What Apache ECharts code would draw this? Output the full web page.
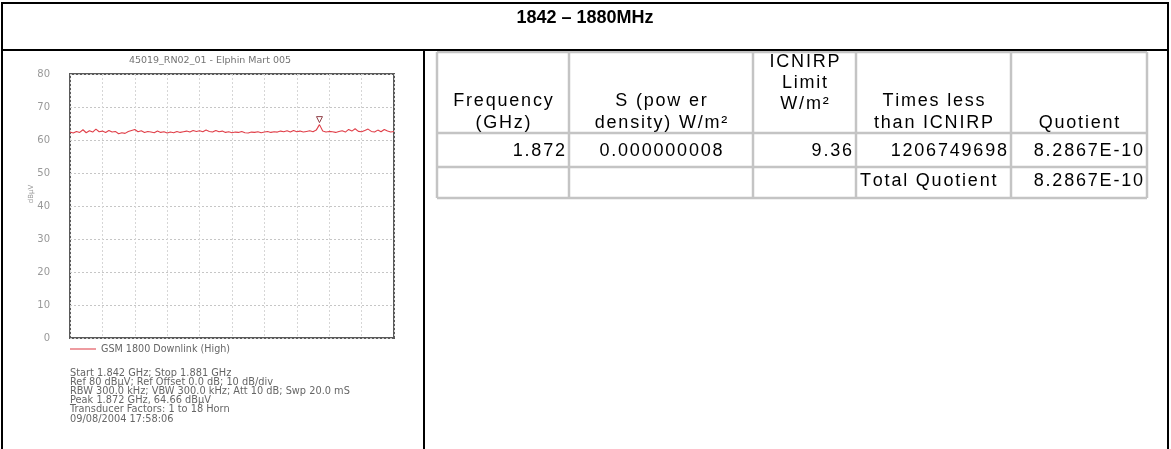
<!DOCTYPE html>
<html>
<head>
<meta charset="utf-8">
<title>1842 – 1880MHz</title>
<script src="https://cdn.jsdelivr.net/npm/echarts@6/dist/echarts.min.js"></script>
<style>
  html, body { margin: 0; padding: 0; background: #fff; }
  #main { width: 1171px; height: 449px; }
</style>
</head>
<body>
<div id="main"></div>
<script>
// spectrum sweep 1.842 - 1.881 GHz, 101 points, dBµV
const traceLevels = [
    62.4, 62.1, 62.6, 62.3, 63.1, 62.2, 62.8, 62.4, 63.3, 62.5,
    62.7, 62.3, 62.9, 62.4, 62.6, 61.9, 62.2, 62.0, 62.6, 62.9,
    63.2, 62.5, 62.8, 62.3, 62.6, 62.4, 62.2, 62.7, 62.3, 62.5,
    62.1, 62.4, 62.2, 62.6, 62.3, 62.5, 62.7, 62.4, 62.9, 62.6,
    62.8, 62.5, 63.0, 62.6, 62.4, 62.9, 62.5, 62.7, 62.3, 62.5,
    62.2, 62.4, 62.3, 62.6, 62.2, 62.1, 62.4, 62.3, 62.5, 62.2,
    62.4, 62.6, 62.3, 62.5, 62.4, 62.7, 62.5, 62.8, 62.4, 62.9,
    62.5, 62.7, 62.4, 62.6, 62.8, 62.5, 63.0, 64.66, 62.7, 62.4,
    62.6, 62.5, 62.3, 62.6, 62.8, 62.4, 63.2, 62.7, 63.4, 62.6,
    62.5, 62.9, 63.3, 62.6, 62.4, 63.0, 62.5, 63.2, 62.7, 62.4, 62.6
];
const peakIndex = 77;
const peakLevel = 64.66;
const yTicks = [0, 10, 20, 30, 40, 50, 60, 70, 80];

const pageTitle = '1842 – 1880MHz';
const plotTitle = '45019_RN02_01 - Elphin Mart 005';
const seriesName = 'GSM 1800 Downlink (High)';
const infoLines = [
    'Start 1.842 GHz; Stop 1.881 GHz',
    'Ref 80 dBµV; Ref Offset 0.0 dB; 10 dB/div',
    'RBW 300.0 kHz; VBW 300.0 kHz; Att 10 dB; Swp 20.0 mS',
    'Peak 1.872 GHz, 64.66 dBµV',
    'Transducer Factors: 1 to 18 Horn',
    '09/08/2004 17:58:06'
];

// table on the right
const tableHeaders = [
    ['Frequency', '(GHz)'],
    ['S (pow er', 'density) W/m²'],
    ['ICNIRP', 'Limit', 'W/m²'],
    ['Times less', 'than ICNIRP'],
    ['Quotient']
];
const tableRow1 = ['1.872', '0.000000008', '9.36', '1206749698', '8.2867E-10'];
const tableRow2 = ['', '', '', 'Total Quotient', '8.2867E-10'];

// layout of the document frame (pixels)
const colX = [437, 569, 753, 856, 1011, 1147];
const rowY = [52, 133, 167, 198];

const measureCtx = document.createElement('canvas').getContext('2d');

function line(x1, y1, x2, y2, color, width) {
    return { type: 'line', silent: true, shape: { x1, y1, x2, y2 }, style: { stroke: color, lineWidth: width } };
}

function text(str, x, y, align, font, color) {
    return {
        type: 'text', silent: true,
        style: { text: str, x, y, align, verticalAlign: 'middle', font, fill: color }
    };
}

// the table in the source is typeset with loose letter spacing, so draw char by char
function spacedText(str, x, y, align, font, color, spacing) {
    measureCtx.font = font;
    const chars = Array.from(str);
    const widths = chars.map(ch => measureCtx.measureText(ch).width);
    const total = widths.reduce((a, b) => a + b, 0) + spacing * (chars.length - 1);
    let cx = align === 'left' ? x : (align === 'right' ? x - total : x - total / 2);
    return chars.map((ch, i) => {
        const el = text(ch, cx, y, 'left', font, color);
        cx += widths[i] + spacing;
        return el;
    });
}

function buildGraphics() {
    const g = [];
    // outer frame
    g.push(line(1, 3, 1169, 3, '#000', 2));
    g.push(line(2, 3, 2, 449, '#000', 2));
    g.push(line(1168, 3, 1168, 449, '#000', 2));
    g.push(line(424, 50, 424, 449, '#000', 2));
    g.push(text(pageTitle, 585, 18, 'center', 'bold 18px "Liberation Sans", Arial, sans-serif', '#000'));

    // table grid
    rowY.forEach(y => g.push(line(colX[0], y, colX[5], y, '#c4c4c4', 2.5)));
    colX.forEach(x => g.push(line(x, rowY[0], x, rowY[3], '#c4c4c4', 2.5)));
    g.push(line(1, 50, 1169, 50, '#000', 2));

    const font = '18px "Liberation Sans", Arial, sans-serif';
    const sp = 1.8;
    tableHeaders.forEach((lines, c) => {
        const cx = (colX[c] + colX[c + 1]) / 2;
        const ys = lines.length === 3 ? [62, 83, 104] : (lines.length === 2 ? [101, 123] : [123]);
        lines.forEach((s, i) => g.push(...spacedText(s, cx, ys[i], 'center', font, '#000', sp)));
    });
    const row1Align = ['right', 'center', 'right', 'right', 'right'];
    tableRow1.forEach((s, c) => {
        const x = row1Align[c] === 'center' ? (colX[c] + colX[c + 1]) / 2 : colX[c + 1] - 4;
        g.push(...spacedText(s, x, 151, row1Align[c], font, '#000', sp));
    });
    tableRow2.forEach((s, c) => {
        if (!s) return;
        const left = c === 3;
        g.push(...spacedText(s, left ? colX[c] + 4 : colX[c + 1] - 4, 181, left ? 'left' : 'right', font, '#000', sp));
    });

    // plot annotations
    g.push(text(plotTitle, 210, 61, 'center', '9.5px "DejaVu Sans", sans-serif', '#737373'));
    g.push({
        type: 'text', silent: true, rotation: Math.PI / 2,
        x: 31, y: 194,
        style: { text: 'dBµV', align: 'center', verticalAlign: 'middle', font: '7px "DejaVu Sans", sans-serif', fill: '#999' }
    });
    infoLines.forEach((s, i) => {
        g.push(text(s, 70, 373 + i * 9.2, 'left', '9.8px "DejaVu Sans", sans-serif', '#666'));
    });
    return g;
}

const chart = echarts.init(document.getElementById('main'), null, { renderer: 'canvas' });

chart.setOption({
    backgroundColor: '#fff',
    animation: false,
    legend: {
        data: [{ name: seriesName, icon: 'rect' }],
        left: 70, top: 344,
        padding: 0,
        itemWidth: 26, itemHeight: 1.5,
        textStyle: { fontSize: 9.6, color: '#666', fontFamily: '"DejaVu Sans", sans-serif' }
    },
    grid: {
        left: 70, top: 74, width: 324, height: 264,
        show: true, borderColor: '#5a5a5a', borderWidth: 2, backgroundColor: '#fff'
    },
    xAxis: {
        type: 'value', min: 0, max: traceLevels.length - 1, interval: 10,
        axisLine: { show: false }, axisTick: { show: false }, axisLabel: { show: false },
        splitLine: { show: true, lineStyle: { color: '#d6d6d6', type: [2, 2], width: 1 } }
    },
    yAxis: {
        type: 'value', min: yTicks[0], max: yTicks[yTicks.length - 1], interval: 10,
        axisLine: { show: false }, axisTick: { show: false },
        axisLabel: { margin: 20, fontSize: 10, color: '#999', fontFamily: '"DejaVu Sans", sans-serif' },
        splitLine: { show: true, lineStyle: { color: '#c6c6c6', type: [2, 2], width: 1 } }
    },
    series: [{
        name: seriesName,
        type: 'line',
        data: traceLevels.map((v, i) => [i, v]),
        showSymbol: false,
        lineStyle: { color: '#e0404a', width: 1.1 },
        itemStyle: { color: '#e87a80' },
        markPoint: {
            symbol: 'triangle', symbolRotate: 180, symbolSize: 6, symbolOffset: [0, -5],
            itemStyle: { color: '#fff', borderColor: '#904048', borderWidth: 1 },
            label: { show: false },
            data: [{ coord: [peakIndex, peakLevel] }]
        }
    }],
    graphic: buildGraphics()
});
</script>
</body>
</html>
